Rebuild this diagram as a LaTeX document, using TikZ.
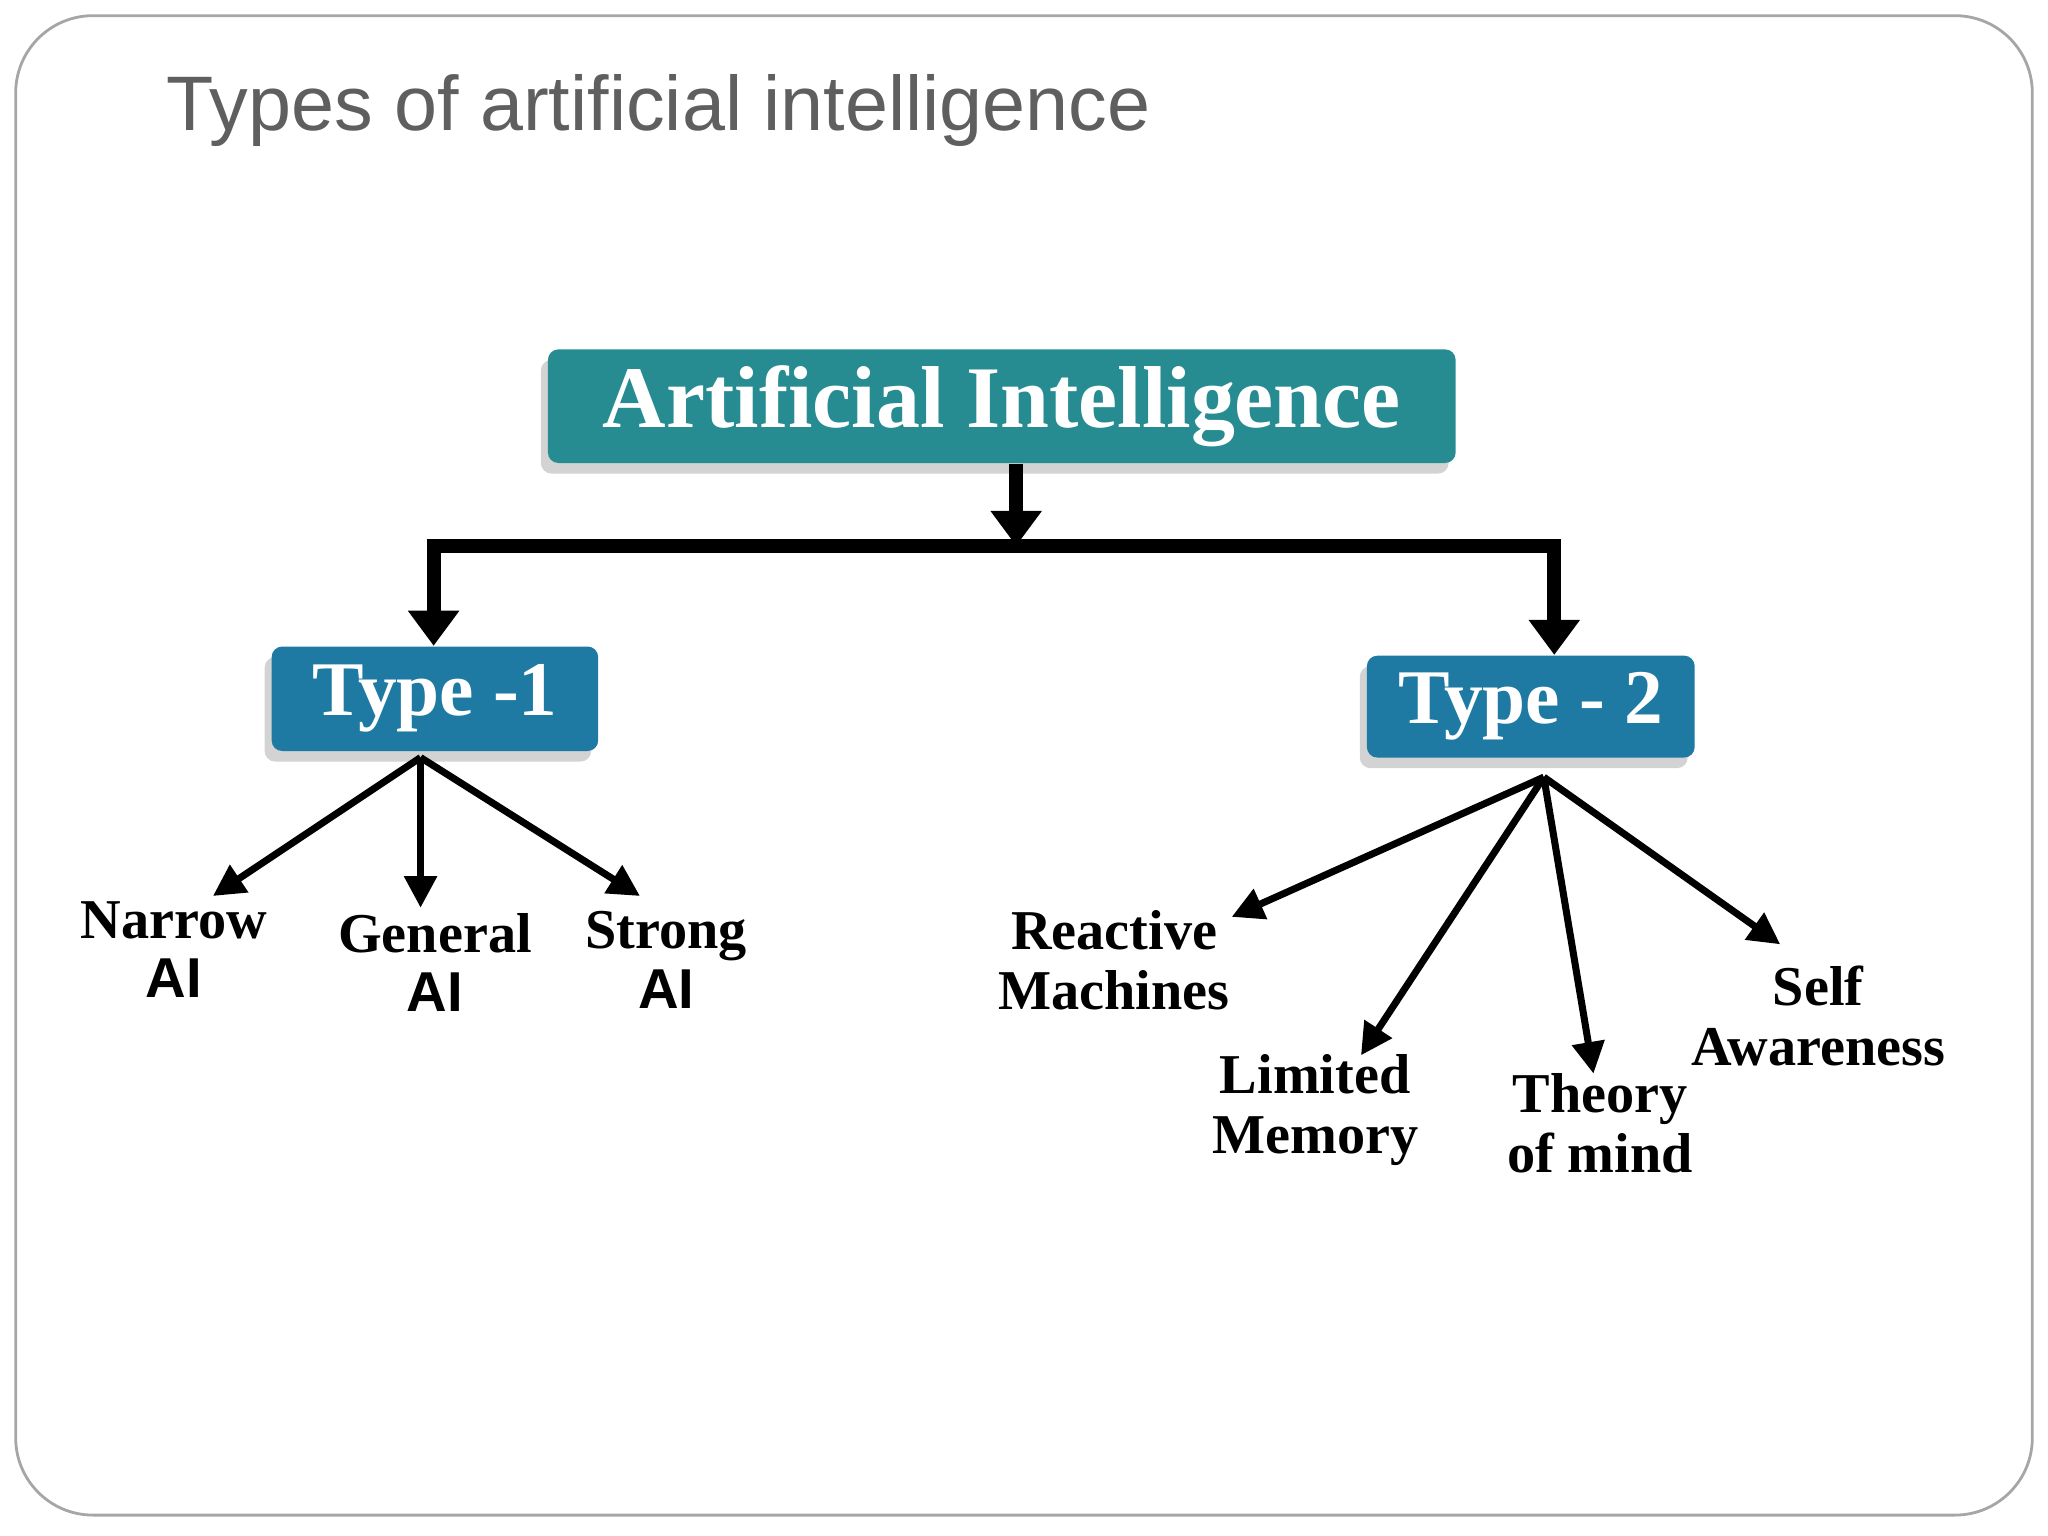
\documentclass[tikz,border=0pt]{standalone}
\usepackage{fontspec}
\setmainfont{Liberation Serif}
\newfontfamily\sansf{Liberation Sans}
\usetikzlibrary{arrows.meta,shadows}
\definecolor{teal1}{RGB}{38,140,146}
\definecolor{blue1}{RGB}{30,122,163}
\definecolor{titlegray}{RGB}{95,95,95}
\begin{document}
\begin{tikzpicture}[x=0.013061cm,y=-0.013061cm,
  box/.style={rounded corners=3pt,text=white,font=\bfseries\fontsize{22}{26}\selectfont,drop shadow={shadow xshift=-2pt,shadow yshift=-3pt,opacity=0.35}},
  lbl/.style={align=center,font=\bfseries\fontsize{16}{17}\selectfont},
  arr/.style={-{Triangle[length=9pt,width=9pt]},line width=2pt},
  big/.style={-{Triangle[length=10pt,width=14pt]},line width=4pt}]
\useasboundingbox (0,0) rectangle (1568,1176);
\draw[gray!70,line width=0.8pt,rounded corners=22pt] (12,12) rectangle (1556,1160);
\node[anchor=base west,text=titlegray,font=\sansf\fontsize{22}{26}\selectfont] (title) at (118,100) {Types of artificial intelligence};
\node[box,fill=teal1,minimum width=695*0.013061cm,minimum height=87*0.013061cm,font=\bfseries\fontsize{25}{28}\selectfont] (ai) at (767,311) {Artificial Intelligence};
\node[box,fill=blue1,minimum width=250*0.013061cm,minimum height=80*0.013061cm] (t1) at (333,535) {Type -1};
\node[box,fill=blue1,minimum width=251*0.013061cm,minimum height=78*0.013061cm] (t2) at (1172,541) {Type - 2};
\coordinate (j) at (778,418);
\coordinate (jl) at (332,418);
\coordinate (jr) at (1190,418);
\draw[big] (ai.south -| j) -- (j);
\draw[line width=4pt,line cap=rect] (jl) -- (jr);
\draw[big] (jl) -- (jl |- t1.north);
\draw[big] (jr) -- (jr |- t2.north);
\node[lbl] (na) at (133,727) {Narrow\\{\sansf AI}};
\node[lbl] (ga) at (333,737) {General\\{\sansf AI}};
\node[lbl] (sa) at (510,735) {Strong\\{\sansf AI}};
\node[lbl] (rm) at (853,735) {Reactive\\Machines};
\node[lbl] (lm) at (1007,850) {Limited\\Memory};
\node[lbl] (tm) at (1225,860) {Theory\\of mind};
\node[lbl] (sw) at (1392,778) {Self\\Awareness};
\coordinate (o1) at (322,580);
\coordinate (o2) at (1182,595);
\draw[arr] (o1) -- (163,686);
\draw[arr] (o1) -- (322,695);
\draw[arr] (o1) -- (490,686);
\draw[arr] (o2) -- (943,702);
\draw[arr] (o2) -- (1042,808);
\draw[arr] (o2) -- (1220,822);
\draw[arr] (o2) -- (1363,723);
\end{tikzpicture}
\end{document}
